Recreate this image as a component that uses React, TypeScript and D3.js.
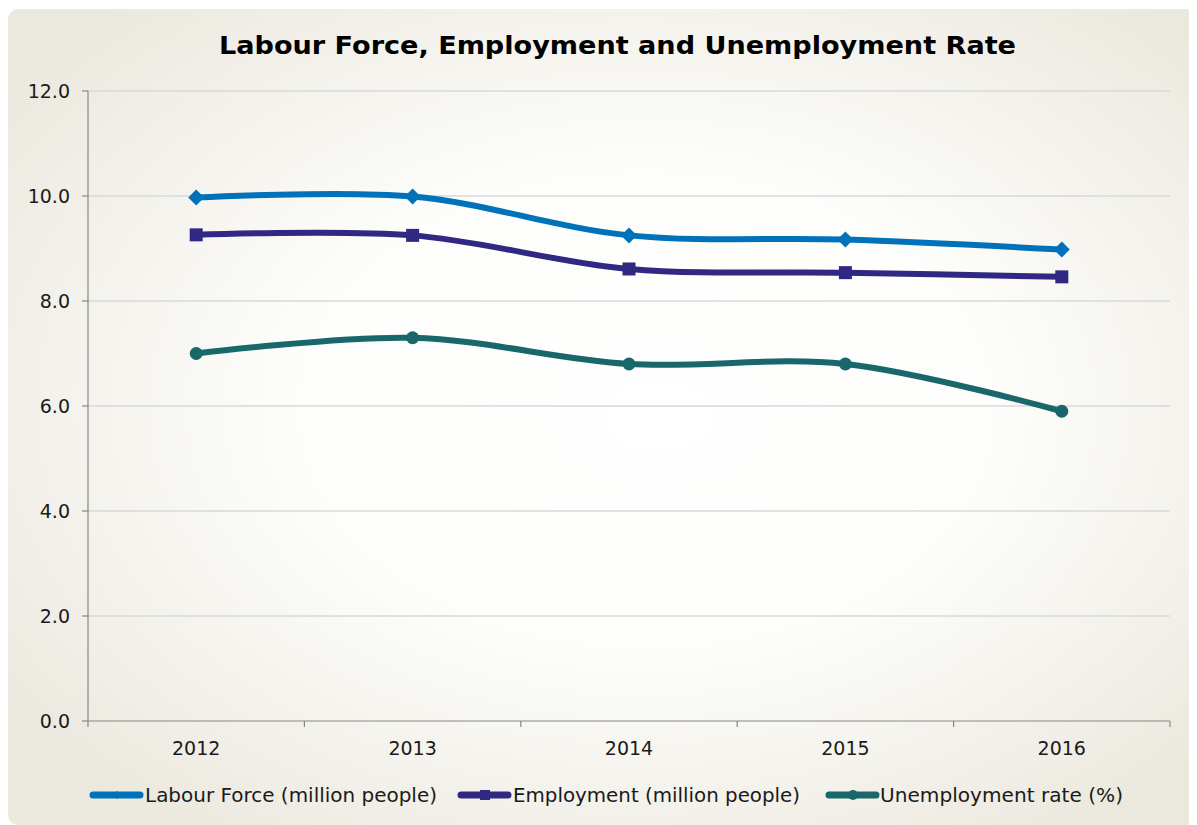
import React from "react";
import * as d3 from "d3";

const years = ["2012", "2013", "2014", "2015", "2016"];
const labourForce = [9.97, 9.99, 9.25, 9.17, 8.98];
const employment = [9.26, 9.25, 8.61, 8.54, 8.46];
const unemploymentRate = [7.0, 7.3, 6.8, 6.8, 5.9];
const yTicks = [0, 2, 4, 6, 8, 10, 12];
const seriesNames = [
  "Labour Force (million people)",
  "Employment (million people)",
  "Unemployment rate (%)",
];

const W = 1189;
const H = 817;
const FONT = "'DejaVu Sans', Verdana, sans-serif";
const colors = ["#0072BA", "#312884", "#17676B"];
const markers = ["diamond", "square", "circle"];

export default function App() {
  const left = 80, right = 1162, top = 83, bottom = 713;
  const x = d3.scaleBand<string>().domain(years).range([left, right]);
  const y = d3.scaleLinear().domain([0, 12]).range([bottom, top]);
  const cx = (yr: string) => (x(yr) as number) + x.bandwidth() / 2;
  const line = d3
    .line<number>()
    .x((_, i) => cx(years[i]))
    .y((d) => y(d))
    .curve(d3.curveCatmullRom.alpha(0.5));
  const allSeries = [labourForce, employment, unemploymentRate];

  const marker = (kind: string, px: number, py: number, size: number, color: string, key: any) => {
    if (kind === "diamond")
      return (
        <path key={key} d={`M${px},${py - size}L${px + size},${py}L${px},${py + size}L${px - size},${py}Z`} fill={color} />
      );
    if (kind === "square")
      return <rect key={key} x={px - size} y={py - size} width={size * 2} height={size * 2} fill={color} />;
    return <circle key={key} cx={px} cy={py} r={size} fill={color} />;
  };

  const legendItems = [
    { x0: 82, tx: 137, tl: 292 },
    { x0: 450, tx: 505, tl: 287 },
    { x0: 818, tx: 872, tl: 243 },
  ];
  const legendY = 787;

  return (
    <svg width={W} height={H} style={{ display: "block" }} fontFamily={FONT}>
      <defs>
        <radialGradient id="bg" cx="52%" cy="48%" r="65%" fx="55%" fy="50%">
          <stop offset="0%" stopColor="#ffffff" />
          <stop offset="45%" stopColor="#fdfdfb" />
          <stop offset="100%" stopColor="#ebe8de" />
        </radialGradient>
      </defs>
      <rect x={0} y={1} width={W} height={H - 1} rx={10} fill="url(#bg)" />
      <text x={609.5} y={46} textAnchor="middle" fontSize={25} fontWeight="bold" fill="#000" textLength={797} lengthAdjust="spacingAndGlyphs">
        Labour Force, Employment and Unemployment Rate
      </text>
      {yTicks.map((t) => (
        <g key={t}>
          {t > 0 && <line x1={left} x2={right} y1={y(t)} y2={y(t)} stroke="#d9d9d9" strokeWidth={1.5} />}
          <line x1={left - 6} x2={left} y1={y(t)} y2={y(t)} stroke="#878787" strokeWidth={1.2} />
          <text x={62} y={y(t)} dy="0.36em" textAnchor="end" fontSize={19} fill="#1a1a1a">
            {t.toFixed(1)}
          </text>
        </g>
      ))}
      <line x1={left} x2={left} y1={top} y2={bottom} stroke="#878787" strokeWidth={1.2} />
      <line x1={left} x2={right} y1={bottom} y2={bottom} stroke="#878787" strokeWidth={1.2} />
      {[...years.map((yr) => x(yr) as number), right].map((tx, i) => (
        <line key={i} x1={tx} x2={tx} y1={bottom} y2={bottom + 6} stroke="#878787" strokeWidth={1.2} />
      ))}
      {years.map((yr) => (
        <text key={yr} x={cx(yr)} y={bottom + 34} textAnchor="middle" fontSize={19} fill="#1a1a1a">
          {yr}
        </text>
      ))}
      {allSeries.map((s, si) => (
        <g key={si}>
          <path d={line(s) || ""} fill="none" stroke={colors[si]} strokeWidth={6} strokeLinejoin="round" />
          {s.map((v, i) =>
            marker(markers[si], cx(years[i]), y(v), si === 0 ? 8 : 6.5, colors[si], i)
          )}
        </g>
      ))}
      {legendItems.map((it, i) => (
        <g key={i}>
          <line x1={it.x0 + 3} x2={it.x0 + 50} y1={legendY} y2={legendY} stroke={colors[i]} strokeWidth={7} strokeLinecap="round" />
          {marker(markers[i], it.x0 + 27, legendY, i === 0 ? 4 : 5, colors[i], "m")}
          <text x={it.tx} y={legendY} dy="0.36em" fontSize={19} fill="#1a1a1a" textLength={it.tl} lengthAdjust="spacingAndGlyphs">
            {seriesNames[i]}
          </text>
        </g>
      ))}
    </svg>
  );
}
